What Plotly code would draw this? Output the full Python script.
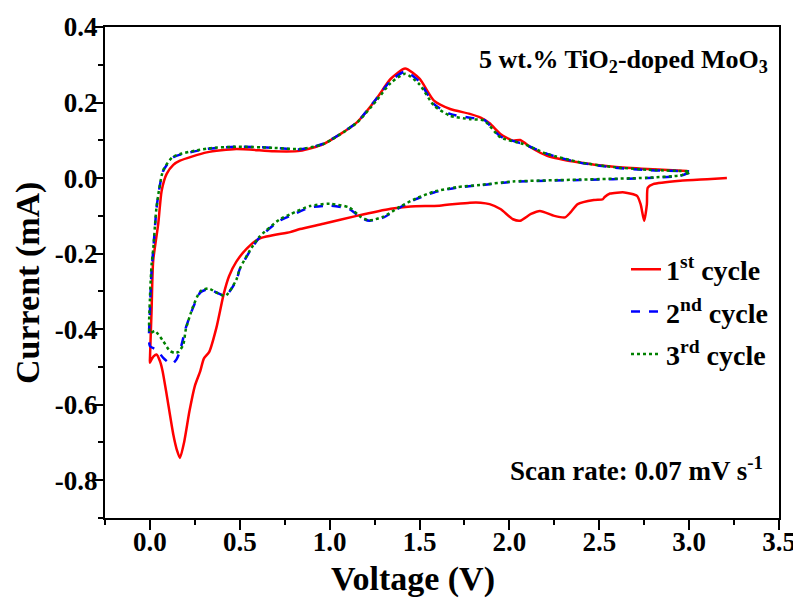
import plotly.graph_objects as go

# ---- data (voltage V, current mA), in scan order ----
cycle1_v = [3.21, 3.10, 2.95, 2.80, 2.77, 2.765, 2.75, 2.73, 2.71, 2.64, 2.56, 2.53, 2.52, 2.47, 2.38, 2.34, 2.31,
            2.25, 2.17, 2.12, 2.06, 2.02, 1.95, 1.89, 1.84, 1.78, 1.61, 1.45, 1.34, 1.15, 0.965, 0.835, 0.78, 0.61,
            0.54, 0.48, 0.44, 0.41, 0.37, 0.33, 0.30, 0.28, 0.25, 0.22, 0.19, 0.167, 0.15, 0.13, 0.093, 0.07, 0.056,
            0.037, 0.02, 0.009, 0.0,
            0.0, 0.009, 0.018, 0.046, 0.065, 0.093, 0.13, 0.167, 0.316, 0.48, 0.69, 0.835, 0.965, 1.15, 1.26, 1.34,
            1.42, 1.50, 1.58, 1.67, 1.78, 1.84, 1.89, 1.95, 2.02, 2.06, 2.12, 2.21, 2.39, 2.58, 2.77, 2.99]
cycle1_i = [0.0, -0.003, -0.007, -0.016, -0.025, -0.069, -0.113, -0.069, -0.047, -0.038, -0.041, -0.050, -0.056,
            -0.058, -0.069, -0.091, -0.104, -0.100, -0.087, -0.095, -0.113, -0.109, -0.082, -0.069, -0.065, -0.065,
            -0.073, -0.075, -0.081, -0.100, -0.121, -0.135, -0.143, -0.160, -0.186, -0.222, -0.26, -0.308, -0.396,
            -0.46, -0.478, -0.511, -0.55, -0.617, -0.70, -0.741, -0.72, -0.679, -0.573, -0.51, -0.485, -0.467,
            -0.472, -0.48, -0.489,
            -0.48, -0.352, -0.219, -0.122, -0.034, 0.011, 0.035, 0.046, 0.068, 0.077, 0.071, 0.072, 0.090, 0.147,
            0.21, 0.263, 0.290, 0.263, 0.205, 0.183, 0.170, 0.160, 0.145, 0.117, 0.099, 0.101, 0.081, 0.059, 0.041,
            0.030, 0.024, 0.019]

cycle2_v = [3.0, 2.95, 2.77, 2.39, 2.02, 1.84, 1.71, 1.58, 1.48, 1.39, 1.30, 1.22, 1.17, 1.11, 1.00, 0.89, 0.78,
            0.72, 0.61, 0.557, 0.50, 0.48, 0.42, 0.37, 0.325, 0.28, 0.24, 0.20, 0.167, 0.148, 0.12, 0.074, 0.037, 0.0,
            0.0, 0.009, 0.018, 0.037, 0.055, 0.074, 0.13, 0.316, 0.48, 0.69, 0.835, 0.965, 1.15, 1.26, 1.34, 1.42,
            1.50, 1.58, 1.67, 1.78, 1.86, 1.95, 2.08, 2.21, 2.39, 2.58, 2.77, 3.0]
cycle2_i = [0.014, 0.006, 0.0, -0.005, -0.010, -0.019, -0.025, -0.038, -0.056, -0.078, -0.104, -0.113, -0.104,
            -0.082, -0.073, -0.078, -0.100, -0.113, -0.157, -0.193, -0.241, -0.272, -0.312, -0.303, -0.294, -0.303,
            -0.343, -0.396, -0.458, -0.48, -0.493, -0.476, -0.454, -0.445,
            -0.352, -0.246, -0.193, -0.078, -0.02, 0.019, 0.055, 0.077, 0.083, 0.080, 0.076, 0.091, 0.147, 0.21,
            0.258, 0.282, 0.255, 0.196, 0.170, 0.160, 0.154, 0.110, 0.090, 0.064, 0.041, 0.028, 0.021, 0.018]

cycle3_v = [3.0, 2.95, 2.77, 2.39, 2.02, 1.84, 1.71, 1.58, 1.48, 1.39, 1.30, 1.22, 1.17, 1.11, 1.00, 0.89, 0.78,
            0.72, 0.61, 0.557, 0.50, 0.48, 0.42, 0.37, 0.325, 0.28, 0.24, 0.20, 0.186, 0.16, 0.139, 0.111, 0.074,
            0.028, 0.0,
            0.0, 0.009, 0.018, 0.037, 0.074, 0.13, 0.316, 0.48, 0.69, 0.835, 0.965, 1.15, 1.26, 1.34, 1.42, 1.50,
            1.58, 1.67, 1.78, 1.86, 1.95, 2.08, 2.21, 2.39, 2.58, 2.77, 3.0]
cycle3_i = [0.014, 0.007, 0.001, -0.004, -0.009, -0.018, -0.024, -0.036, -0.054, -0.076, -0.102, -0.112, -0.102,
            -0.078, -0.068, -0.074, -0.096, -0.110, -0.155, -0.191, -0.240, -0.270, -0.312, -0.303, -0.292, -0.300,
            -0.34, -0.40, -0.44, -0.46, -0.463, -0.458, -0.432, -0.405, -0.41,
            -0.32, -0.23, -0.19, -0.076, 0.021, 0.057, 0.078, 0.083, 0.080, 0.077, 0.090, 0.146, 0.205, 0.252,
            0.276, 0.248, 0.192, 0.165, 0.156, 0.152, 0.108, 0.090, 0.064, 0.042, 0.029, 0.022, 0.018]

names = ["1<sup>st</sup> cycle", "2<sup>nd</sup> cycle", "3<sup>rd</sup> cycle"]
x_ticks = [0.0, 0.5, 1.0, 1.5, 2.0, 2.5, 3.0, 3.5]
x_labels = ["0.0", "0.5", "1.0", "1.5", "2.0", "2.5", "3.0", "3.5"]
y_ticks = [-0.8, -0.6, -0.4, -0.2, 0.0, 0.2, 0.4]
y_labels = ["-0.8", "-0.6", "-0.4", "-0.2", "0.0", "0.2", "0.4"]

FONT = "Liberation Serif"

fig = go.Figure()
fig.add_trace(go.Scatter(x=cycle1_v, y=cycle1_i, mode="lines", name=names[0], legendgroup="a",
                         line=dict(color="#FF0000", width=2.5, shape="spline", smoothing=0.6)))
fig.add_trace(go.Scatter(x=cycle2_v, y=cycle2_i, mode="lines", name=names[1], legendgroup="b",
                         line=dict(color="#0000FF", width=2.5, dash="dash", shape="spline", smoothing=0.6)))
fig.add_trace(go.Scatter(x=cycle3_v, y=cycle3_i, mode="lines", name=names[2], legendgroup="c",
                         line=dict(color="#008000", width=2.5, dash="dot", shape="spline", smoothing=0.6)))

axis_common = dict(showline=True, linecolor="black", linewidth=2, mirror=True, ticks="outside",
                   ticklen=10, tickwidth=2, tickcolor="black", showgrid=False, zeroline=False,
                   automargin=False,
                   tickfont=dict(family=FONT, size=27, color="black", weight="bold"))

fig.update_xaxes(range=[-0.25, 3.5], tickvals=x_ticks, ticktext=x_labels, ticklabelstandoff=-11,
                 minor=dict(ticks="outside", ticklen=5, tickwidth=2, tickcolor="black", dtick=0.25, tick0=0),
                 **axis_common)
fig.update_yaxes(range=[-0.9, 0.4], tickvals=y_ticks, ticktext=y_labels, ticklabelstandoff=-10,
                 minor=dict(ticks="outside", ticklen=5, tickwidth=2, tickcolor="black", dtick=0.1, tick0=0),
                 **axis_common)

title_font = dict(family=FONT, size=34, color="black", weight="bold")

fig.update_layout(
    width=793, height=591,
    margin=dict(l=97, r=22, t=19, b=81),
    paper_bgcolor="white", plot_bgcolor="white",
    font=dict(family=FONT, color="black"),
    showlegend=True,
    legend=dict(x=0.773, y=0.557, xanchor="left", yanchor="top", bgcolor="rgba(0,0,0,0)",
                font=dict(family=FONT, size=28, color="black", weight="bold"), tracegroupgap=3),
    annotations=[
        dict(text="Voltage (V)", xref="paper", yref="paper", x=0.457, y=-0.124,
             xanchor="center", yanchor="middle", showarrow=False, font=title_font),
        dict(text="Current (mA)", xref="paper", yref="paper", x=-0.114, y=0.479, textangle=-90,
             xanchor="center", yanchor="middle", showarrow=False, font=title_font),
        dict(text="5 wt.% TiO<sub>2</sub>-doped MoO<sub>3</sub>", xref="paper", yref="paper",
             x=0.987, y=0.93, xanchor="right", yanchor="middle", showarrow=False,
             font=dict(family=FONT, size=26, color="black", weight="bold")),
        dict(text="Scan rate: 0.07 mV s<sup>-1</sup>", xref="paper", yref="paper",
             x=0.979, y=0.10, xanchor="right", yanchor="middle", showarrow=False,
             font=dict(family=FONT, size=27, color="black", weight="bold")),
    ],
)

fig.write_html("out.html")
